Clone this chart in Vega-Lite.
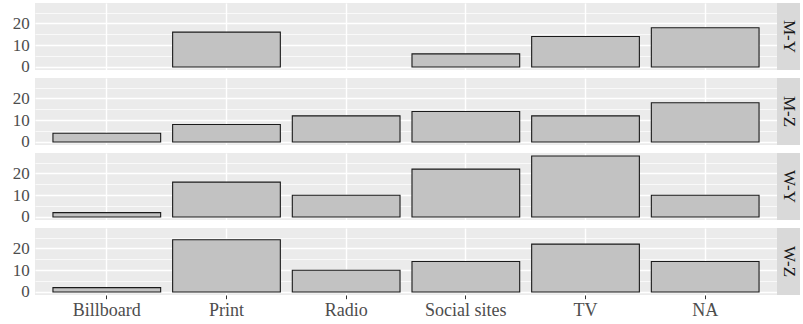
{
  "$schema": "https://vega.github.io/schema/vega-lite/v6.json",
  "padding": {"left": 5, "top": 3, "right": 0, "bottom": 0},
  "background": "white",
  "datasets": {
    "counts": [
      {"group": "M-Y", "source": "Print", "count": 16},
      {"group": "M-Y", "source": "Social sites", "count": 6},
      {"group": "M-Y", "source": "TV", "count": 14},
      {"group": "M-Y", "source": "NA", "count": 18},
      {"group": "M-Z", "source": "Billboard", "count": 4},
      {"group": "M-Z", "source": "Print", "count": 8},
      {"group": "M-Z", "source": "Radio", "count": 12},
      {"group": "M-Z", "source": "Social sites", "count": 14},
      {"group": "M-Z", "source": "TV", "count": 12},
      {"group": "M-Z", "source": "NA", "count": 18},
      {"group": "W-Y", "source": "Billboard", "count": 2},
      {"group": "W-Y", "source": "Print", "count": 16},
      {"group": "W-Y", "source": "Radio", "count": 10},
      {"group": "W-Y", "source": "Social sites", "count": 22},
      {"group": "W-Y", "source": "TV", "count": 28},
      {"group": "W-Y", "source": "NA", "count": 10},
      {"group": "W-Z", "source": "Billboard", "count": 2},
      {"group": "W-Z", "source": "Print", "count": 24},
      {"group": "W-Z", "source": "Radio", "count": 10},
      {"group": "W-Z", "source": "Social sites", "count": 14},
      {"group": "W-Z", "source": "TV", "count": 22},
      {"group": "W-Z", "source": "NA", "count": 14}
    ],
    "groups": [
      {"group": "M-Y"}, {"group": "M-Z"}, {"group": "W-Y"}, {"group": "W-Z"}
    ]
  },
  "spacing": 0,
  "hconcat": [
    {
      "bounds": "flush",
      "spacing": 8,
      "vconcat": [
        {
          "width": 742, "height": 67,
          "data": {"name": "counts"},
          "transform": [{"filter": "datum.group === 'M-Y'"}],
          "mark": {"type": "bar", "fill": "#C2C2C2", "stroke": "#1A1A1A", "strokeWidth": 1.1},
          "encoding": {
            "x": {"field": "source", "type": "nominal", "title": null,
                  "scale": {"domain": ["Billboard", "Print", "Radio", "Social sites", "TV", "NA"], "paddingInner": 0.1, "paddingOuter": 0.15},
                  "axis": {"labels": false, "ticks": false, "domain": false, "grid": true, "minExtent": 0, "maxExtent": 0}},
            "y": {"field": "count", "type": "quantitative", "title": null,
                  "scale": {"domain": [-1.4, 29.4], "nice": false, "zero": false},
                  "axis": {"values": [0, 5, 10, 15, 20, 25]}},
            "y2": {"datum": 0}
          }
        },
        {
          "width": 742, "height": 67,
          "data": {"name": "counts"},
          "transform": [{"filter": "datum.group === 'M-Z'"}],
          "mark": {"type": "bar", "fill": "#C2C2C2", "stroke": "#1A1A1A", "strokeWidth": 1.1},
          "encoding": {
            "x": {"field": "source", "type": "nominal", "title": null,
                  "scale": {"domain": ["Billboard", "Print", "Radio", "Social sites", "TV", "NA"], "paddingInner": 0.1, "paddingOuter": 0.15},
                  "axis": {"labels": false, "ticks": false, "domain": false, "grid": true, "minExtent": 0, "maxExtent": 0}},
            "y": {"field": "count", "type": "quantitative", "title": null,
                  "scale": {"domain": [-1.4, 29.4], "nice": false, "zero": false},
                  "axis": {"values": [0, 5, 10, 15, 20, 25]}},
            "y2": {"datum": 0}
          }
        },
        {
          "width": 742, "height": 67,
          "data": {"name": "counts"},
          "transform": [{"filter": "datum.group === 'W-Y'"}],
          "mark": {"type": "bar", "fill": "#C2C2C2", "stroke": "#1A1A1A", "strokeWidth": 1.1},
          "encoding": {
            "x": {"field": "source", "type": "nominal", "title": null,
                  "scale": {"domain": ["Billboard", "Print", "Radio", "Social sites", "TV", "NA"], "paddingInner": 0.1, "paddingOuter": 0.15},
                  "axis": {"labels": false, "ticks": false, "domain": false, "grid": true, "minExtent": 0, "maxExtent": 0}},
            "y": {"field": "count", "type": "quantitative", "title": null,
                  "scale": {"domain": [-1.4, 29.4], "nice": false, "zero": false},
                  "axis": {"values": [0, 5, 10, 15, 20, 25]}},
            "y2": {"datum": 0}
          }
        },
        {
          "width": 742, "height": 67,
          "data": {"name": "counts"},
          "transform": [{"filter": "datum.group === 'W-Z'"}],
          "mark": {"type": "bar", "fill": "#C2C2C2", "stroke": "#1A1A1A", "strokeWidth": 1.1},
          "encoding": {
            "x": {"field": "source", "type": "nominal", "title": null,
                  "scale": {"domain": ["Billboard", "Print", "Radio", "Social sites", "TV", "NA"], "paddingInner": 0.1, "paddingOuter": 0.15},
                  "axis": {"labels": true, "ticks": true, "domain": false, "grid": true, "labelAngle": 0, "labelFontSize": 18, "labelPadding": 3}},
            "y": {"field": "count", "type": "quantitative", "title": null,
                  "scale": {"domain": [-1.4, 29.4], "nice": false, "zero": false},
                  "axis": {"values": [0, 5, 10, 15, 20, 25]}},
            "y2": {"datum": 0}
          }
        }
      ]
    },
    {
      "bounds": "flush",
      "spacing": 8,
      "vconcat": [
        {
          "width": 23, "height": 67,
          "view": {"fill": "#D9D9D9", "stroke": null},
          "data": {"name": "groups"},
          "transform": [{"filter": "datum.group === 'M-Y'"}],
          "mark": {"type": "text", "angle": 90, "font": "Liberation Serif, Times New Roman, serif", "fontSize": 17, "color": "#1A1A1A", "align": "center", "baseline": "middle"},
          "encoding": {"text": {"field": "group"}}
        },
        {
          "width": 23, "height": 67,
          "view": {"fill": "#D9D9D9", "stroke": null},
          "data": {"name": "groups"},
          "transform": [{"filter": "datum.group === 'M-Z'"}],
          "mark": {"type": "text", "angle": 90, "font": "Liberation Serif, Times New Roman, serif", "fontSize": 17, "color": "#1A1A1A", "align": "center", "baseline": "middle"},
          "encoding": {"text": {"field": "group"}}
        },
        {
          "width": 23, "height": 67,
          "view": {"fill": "#D9D9D9", "stroke": null},
          "data": {"name": "groups"},
          "transform": [{"filter": "datum.group === 'W-Y'"}],
          "mark": {"type": "text", "angle": 90, "font": "Liberation Serif, Times New Roman, serif", "fontSize": 17, "color": "#1A1A1A", "align": "center", "baseline": "middle"},
          "encoding": {"text": {"field": "group"}}
        },
        {
          "width": 23, "height": 67,
          "view": {"fill": "#D9D9D9", "stroke": null},
          "data": {"name": "groups"},
          "transform": [{"filter": "datum.group === 'W-Z'"}],
          "mark": {"type": "text", "angle": 90, "font": "Liberation Serif, Times New Roman, serif", "fontSize": 17, "color": "#1A1A1A", "align": "center", "baseline": "middle"},
          "encoding": {"text": {"field": "group"}}
        }
      ]
    }
  ],
  "config": {
    "view": {"fill": "#EBEBEB", "stroke": null},
    "axis": {
      "domain": false,
      "gridColor": "white",
      "gridWidth": 1.4,
      "gridOpacity": 1,
      "tickColor": "#333333",
      "tickSize": 3.7,
      "tickWidth": 1,
      "labelPadding": 2,
      "labelColor": "#4D4D4D",
      "labelFont": "Liberation Serif, Times New Roman, serif",
      "labelFontSize": 17,
      "labelOverlap": false
    },
    "axisY": {
      "labelExpr": "datum.value % 10 === 0 ? datum.label : ''",
      "tickOpacity": {"condition": {"test": "datum.value % 10 === 0", "value": 1}, "value": 0},
      "gridWidth": {"condition": {"test": "datum.value % 10 === 0", "value": 1.4}, "value": 0.7},
      "minExtent": 30,
      "maxExtent": 30,
      "labelBaseline": "middle",
      "labelOverlap": false
    }
  }
}
